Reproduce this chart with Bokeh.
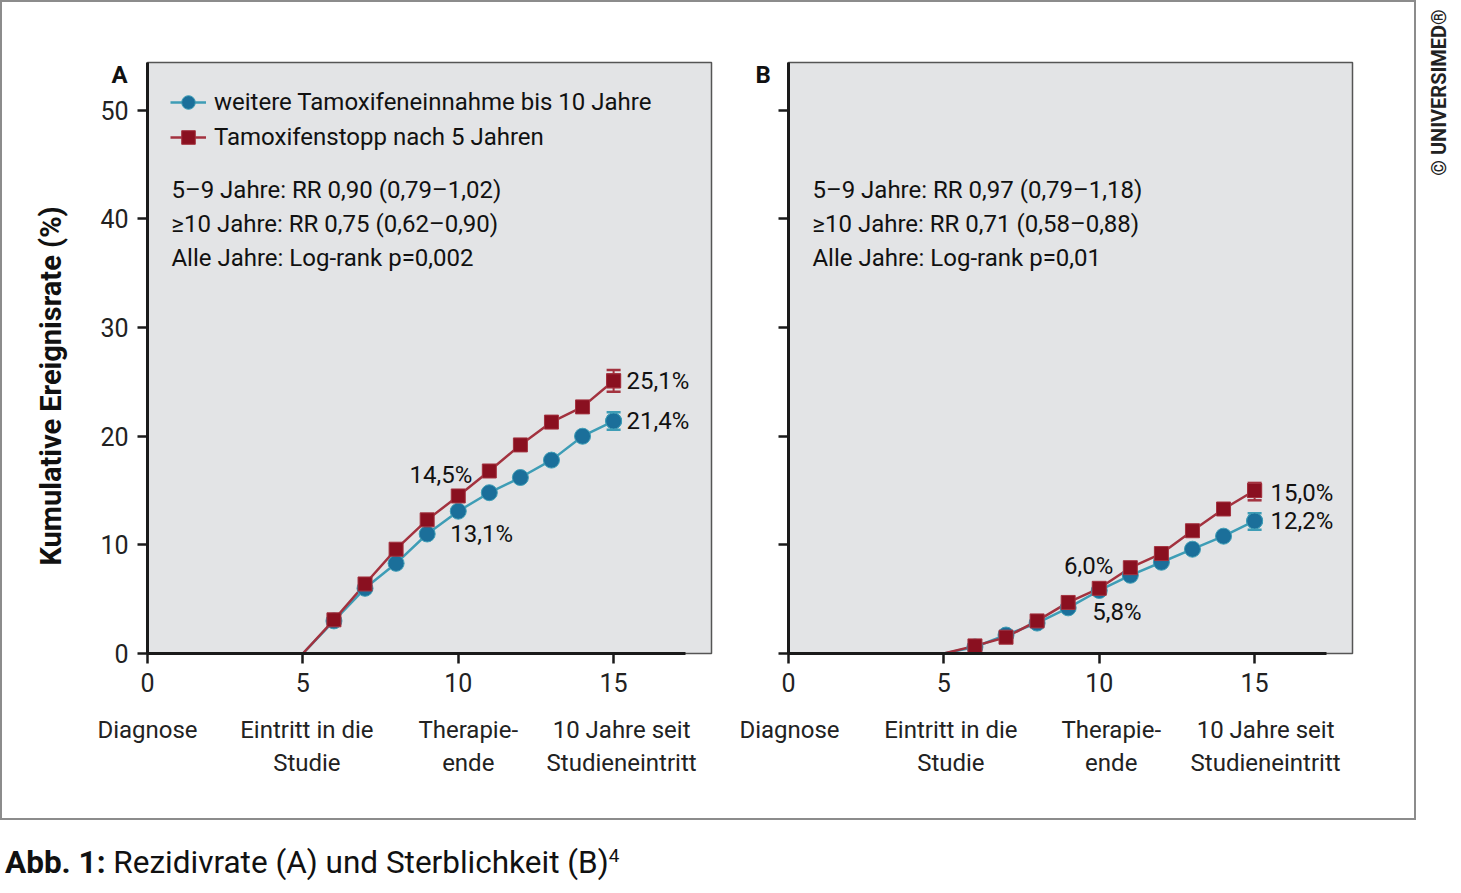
import math
from bokeh.plotting import figure
from bokeh.models import (Label, Legend, LegendItem, FixedTicker, Whisker, LinearAxis,
                          ColumnDataSource, Div, Range1d, TeeHead, Title)
from bokeh.layouts import row, column
from bokeh.embed import file_html
from bokeh.resources import INLINE

# ---------------- data ----------------
years = [5, 6, 7, 8, 9, 10, 11, 12, 13, 14, 15]
a_weiter = [0, 3.0, 6.0, 8.3, 11.0, 13.1, 14.8, 16.2, 17.8, 20.0, 21.4]
a_stopp = [0, 3.1, 6.4, 9.6, 12.3, 14.5, 16.8, 19.2, 21.3, 22.7, 25.1]
b_weiter = [0, 0.6, 1.7, 2.8, 4.2, 5.8, 7.2, 8.4, 9.6, 10.8, 12.2]
b_stopp = [0, 0.7, 1.5, 3.0, 4.7, 6.0, 7.9, 9.2, 11.3, 13.3, 15.0]
# confidence interval at 15 years [weiter, stopp]
a_ci_low = [20.6, 24.1]
a_ci_high = [22.2, 26.1]
b_ci_low = [11.4, 14.1]
b_ci_high = [12.9, 15.7]

series_names = ["weitere Tamoxifeneinnahme bis 10 Jahre", "Tamoxifenstopp nach 5 Jahren"]
x_ticks = [0, 5, 10, 15]
y_ticks = [0, 10, 20, 30, 40, 50]
phase_labels = ["Diagnose", "Eintritt in die\nStudie", "Therapie-\nende", "10 Jahre seit\nStudieneintritt"]
phase_pos = [0, 5, 10, 15]

stats_a = ["5\u20139 Jahre: RR 0,90 (0,79\u20131,02)",
           "\u226510 Jahre: RR 0,75 (0,62\u20130,90)",
           "Alle Jahre: Log-rank p=0,002"]
stats_b = ["5\u20139 Jahre: RR 0,97 (0,79\u20131,18)",
           "\u226510 Jahre: RR 0,71 (0,58\u20130,88)",
           "Alle Jahre: Log-rank p=0,01"]

FONT = "Roboto"
BLUE_M = "#1b6f9a"
BLUE_L = "#3e9db6"
RED_M = "#8a1020"
RED_L = "#a3323f"
BG = "#e3e4e6"
PX_PER_X = 31.07


def make_panel(letter, weiter, stopp, ci_low, ci_high, stats, vlabels,
               width, border_left, border_right, show_ylabels, show_legend,
               phase_offsets_px, letter_dx):
    p = figure(width=width, height=816, output_backend="svg", toolbar_location=None,
               x_range=Range1d(0, 18.15), y_range=Range1d(0, 54.4),
               min_border_left=border_left, min_border_right=border_right,
               min_border_top=60, min_border_bottom=165)
    p.background_fill_color = BG
    p.border_fill_color = "white"
    p.outline_line_color = "#555555"
    p.outline_line_width = 1.5
    p.xgrid.visible = False
    p.ygrid.visible = False

    for ax in (p.xaxis, p.yaxis):
        ax.axis_line_color = "#1a1a1a"
        ax.axis_line_width = 3
        ax.major_tick_line_color = "#1a1a1a"
        ax.major_tick_line_width = 2.5
        ax.major_tick_out = 10
        ax.major_tick_in = 0
        ax.minor_tick_line_color = None
        ax.major_label_text_font = FONT
        ax.major_label_text_font_size = "25px"
        ax.major_label_text_color = "#222222"
        ax.major_label_standoff = 9
    p.xaxis.ticker = FixedTicker(ticks=x_ticks)
    p.yaxis.ticker = FixedTicker(ticks=y_ticks)
    p.xaxis.bounds = (0, 17.3)
    if not show_ylabels:
        p.yaxis.major_label_text_alpha = 0

    # phase axis (second axis below)
    ph_ticks = [round(pos + off / PX_PER_X, 3) for pos, off in zip(phase_pos, phase_offsets_px)]
    ph_axis = LinearAxis(ticker=FixedTicker(ticks=ph_ticks),
                         major_label_overrides={t: lab for t, lab in zip(ph_ticks, phase_labels)},
                         axis_line_color=None, major_tick_line_color=None,
                         minor_tick_line_color=None, major_tick_out=0, major_tick_in=0,
                         major_label_standoff=21,
                         major_label_text_font=FONT, major_label_text_font_size="24px",
                         major_label_text_color="#222222",
                         major_label_text_line_height=1.2)
    p.add_layout(ph_axis, "below")

    # panel letter as a title placed just beside the frame corner
    p.add_layout(Title(text=letter, align="left", offset=letter_dx, standoff=-52,
                       vertical_align="bottom",
                       text_font=FONT, text_font_size="24px", text_font_style="bold",
                       text_color="#111111"), "above")

    src_w = ColumnDataSource(dict(x=years, y=weiter))
    src_s = ColumnDataSource(dict(x=years, y=stopp))
    mk_w = ColumnDataSource(dict(x=years[1:], y=weiter[1:]))
    mk_s = ColumnDataSource(dict(x=years[1:], y=stopp[1:]))

    lw = p.line("x", "y", source=src_w, line_color=BLUE_L, line_width=2.5)
    ls = p.line("x", "y", source=src_s, line_color=RED_L, line_width=2.5)
    cw = p.scatter("x", "y", source=mk_w, marker="circle", size=16,
                   fill_color=BLUE_M, line_color=BLUE_L, line_width=1)
    cs = p.scatter("x", "y", source=mk_s, marker="square", size=14,
                   fill_color=RED_M, line_color=RED_L, line_width=1)

    for i, col_l in enumerate([BLUE_L, RED_L]):
        wsrc = ColumnDataSource(dict(base=[years[-1]], lower=[ci_low[i]], upper=[ci_high[i]]))
        w = Whisker(base="base", lower="lower", upper="upper", source=wsrc,
                    dimension="height", line_color=col_l, line_width=2,
                    upper_head=TeeHead(size=14, line_color=col_l, line_width=2.5),
                    lower_head=TeeHead(size=14, line_color=col_l, line_width=2.5))
        p.add_layout(w)
    p.scatter([years[-1]], [weiter[-1]], marker="circle", size=16,
              fill_color=BLUE_M, line_color=BLUE_L, line_width=1)
    p.scatter([years[-1]], [stopp[-1]], marker="square", size=14,
              fill_color=RED_M, line_color=RED_L, line_width=1)

    if show_legend:
        legend = Legend(items=[LegendItem(label=series_names[0], renderers=[lw, cw]),
                               LegendItem(label=series_names[1], renderers=[ls, cs])],
                        location="top_left", margin=13, padding=10,
                        glyph_width=36, glyph_height=34, label_height=34,
                        spacing=1, label_standoff=8,
                        label_text_font=FONT, label_text_font_size="24px",
                        label_text_color="#111111",
                        background_fill_alpha=0, border_line_alpha=0)
        p.add_layout(legend)

    for k, t in enumerate(stats):
        p.add_layout(Label(x=0.77, y=42.7 - k * 3.13, text=t, text_font=FONT,
                           text_font_size="24px", text_color="#111111",
                           text_align="left", text_baseline="middle"))

    for (xx, yy, txt, xo, yo, al) in vlabels:
        p.add_layout(Label(x=xx, y=yy, text=txt, x_offset=xo, y_offset=yo,
                           text_font=FONT, text_font_size="24px", text_color="#111111",
                           text_align=al, text_baseline="middle"))
    return p


vl_a = [(10, a_stopp[5], "14,5%", 14, 21, "right"),
        (10, a_weiter[5], "13,1%", -8, -23, "left"),
        (15, a_stopp[-1], "25,1%", 13, 0, "left"),
        (15, a_weiter[-1], "21,4%", 13, 0, "left")]
vl_b = [(10, b_stopp[5], "6,0%", 14, 22, "right"),
        (10, b_weiter[5], "5,8%", -7, -22, "left"),
        (15, b_stopp[-1], "15,0%", 16, -2, "left"),
        (15, b_weiter[-1], "12,2%", 16, 0, "left")]

pA = make_panel("A", a_weiter, a_stopp, a_ci_low, a_ci_high, stats_a, vl_a,
                width=723, border_left=145, border_right=14,
                show_ylabels=True, show_legend=True, phase_offsets_px=[0, 4, 10, 8],
                letter_dx=-36)
pB = make_panel("B", b_weiter, b_stopp, b_ci_low, b_ci_high, stats_b, vl_b,
                width=689, border_left=63, border_right=62,
                show_ylabels=False, show_legend=False, phase_offsets_px=[1, 7, 12, 11],
                letter_dx=-33)

# y-axis title on panel A
pA.add_layout(Title(text="Kumulative Ereignisrate (%)", align="left", offset=88, standoff=59,
                    vertical_align="bottom",
                    text_font=FONT, text_font_size="29px", text_font_style="bold",
                    text_color="#111111"), "left")

# copyright strip
pc = figure(width=37, height=200, output_backend="svg", toolbar_location=None,
            x_range=Range1d(0, 1), y_range=Range1d(0, 1), min_border=0)
pc.axis.visible = False
pc.grid.visible = False
pc.outline_line_color = None
pc.background_fill_color = "white"
pc.add_layout(Label(x=0.6, y=0.54, text="\u00a9 UNIVERSIMED\u00ae", angle=math.pi / 2,
                    text_font=FONT, text_font_size="20px", text_font_style="bold",
                    text_color="#222222", text_align="center", text_baseline="middle"))

panels = row(pA, pB, styles={"border": "2px solid #8c8c8c"})
caption = Div(text="<b>Abb. 1:</b> Rezidivrate (A) und Sterblichkeit (B)<sup style='font-size:60%'>4</sup>",
              width=800, height=60,
              styles={"font-family": "Roboto", "font-size": "31.5px", "color": "#111111",
                      "padding-top": "15px"})

layout = column(row(panels, pc), caption)

open("out.html", "w").write(file_html(layout, INLINE))
